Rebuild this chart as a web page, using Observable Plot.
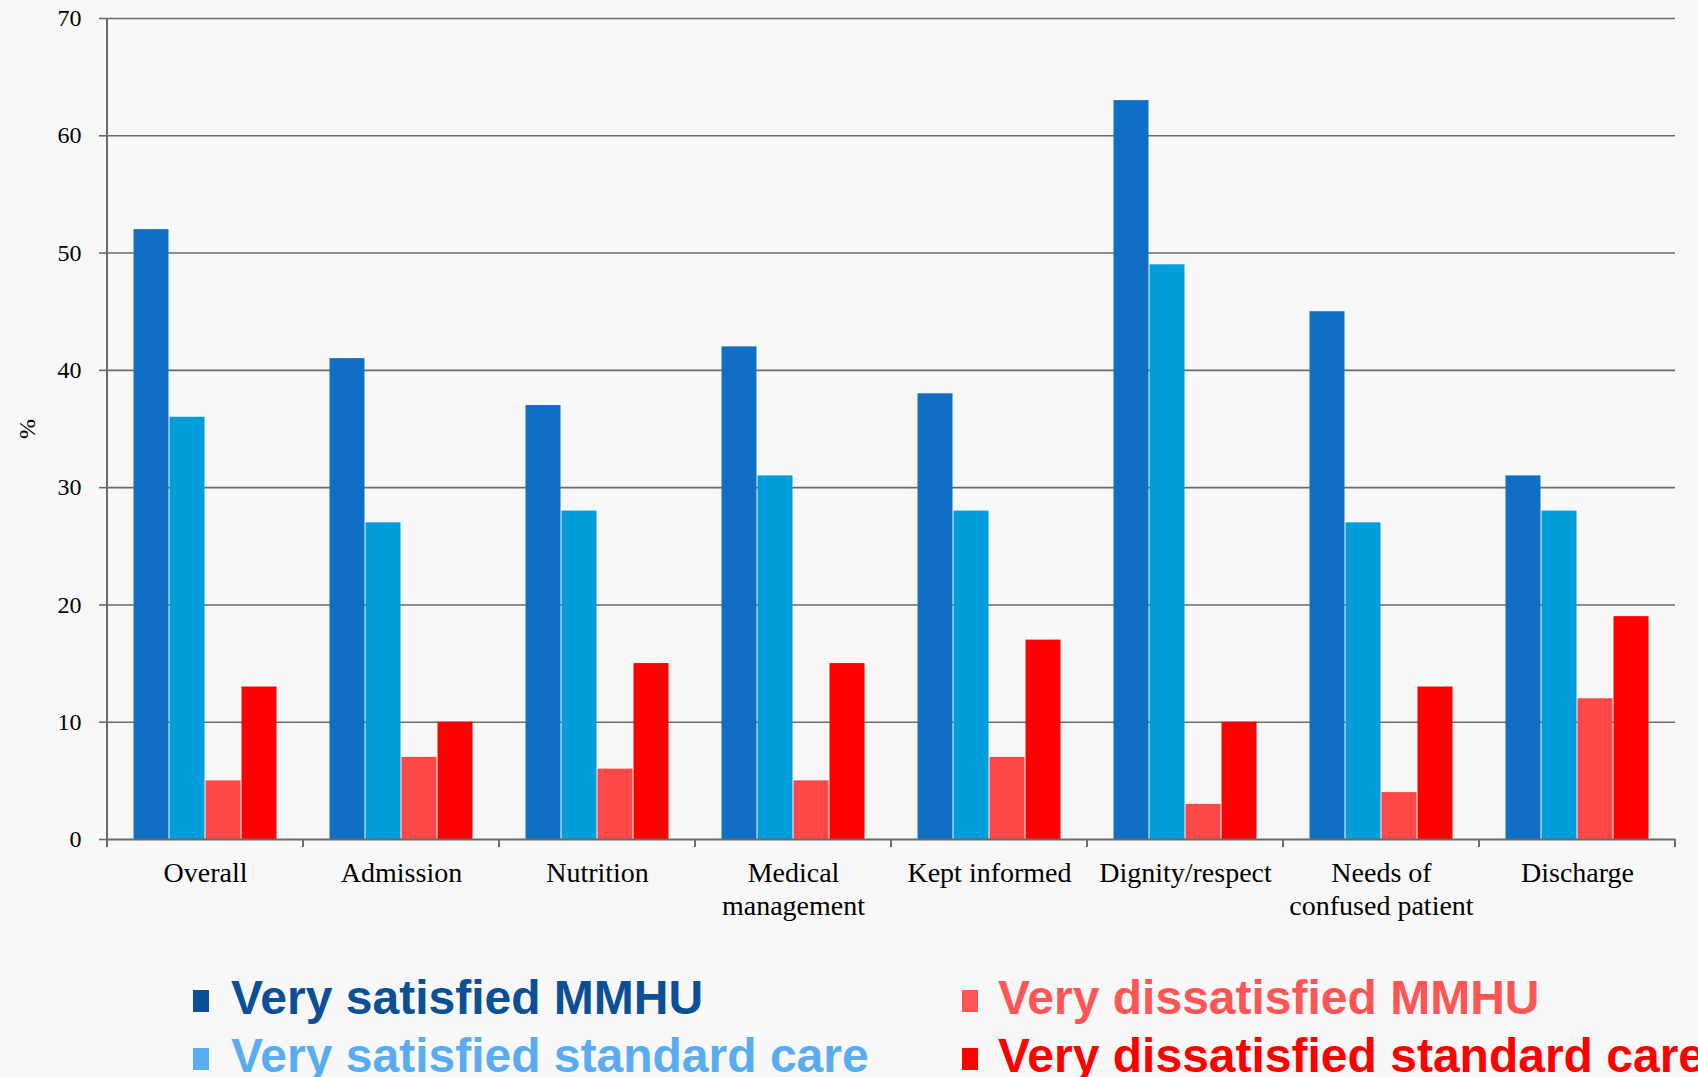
<!DOCTYPE html>
<html><head><meta charset="utf-8">
<script src="https://cdn.jsdelivr.net/npm/d3@7"></script>
<script src="https://cdn.jsdelivr.net/npm/@observablehq/plot@0.6"></script>
<style>
html,body{margin:0;padding:0;background:#f8f8f8;width:1698px;height:1077px;overflow:hidden;}
#chart{position:absolute;left:0;top:0;}
.leg{position:absolute;font-family:"Liberation Sans",Arial,sans-serif;font-weight:bold;font-size:48px;line-height:48px;white-space:nowrap;}
.sw{position:absolute;width:16px;height:22px;}
</style></head><body>
<div id="chart"></div>
<div id="legend"></div>
<script>
const categories = ["Overall","Admission","Nutrition","Medical\nmanagement","Kept informed","Dignity/respect","Needs of\nconfused patient","Discharge"];
const seriesNames = ["Very satisfied MMHU","Very satisfied standard care","Very dissatisfied MMHU","Very dissatisfied standard care"];
const verySatisfiedMMHU = [52,41,37,42,38,63,45,31];
const verySatisfiedStandard = [36,27,28,31,28,49,27,28];
const veryDissatisfiedMMHU = [5,7,6,5,7,3,4,12];
const veryDissatisfiedStandard = [13,10,15,15,17,10,13,19];
const yTicks = [0,10,20,30,40,50,60,70];
const barColors = ["#106ec5","#029edb","#ff4848","#ff0000"];
const legendColors = ["#0b4f96","#5aacf0","#ff5555","#ff0000"];

const seriesValues = [verySatisfiedMMHU, verySatisfiedStandard, veryDissatisfiedMMHU, veryDissatisfiedStandard];
const rows = [];
categories.forEach((c, i) => seriesNames.forEach((s, j) => rows.push({category: c, series: s, value: seriesValues[j][i]})));

const gridColor = "#6b6b6b";
const plot = Plot.plot({
  width: 1698, height: 930,
  marginTop: 18, marginBottom: 91, marginLeft: 103, marginRight: 20,
  style: {background: "transparent", fontFamily: "'Liberation Serif', serif", color: "#000"},
  fx: {domain: categories, padding: 0, label: null},
  x: {domain: seriesNames, paddingInner: 0, paddingOuter: 0.72, axis: null},
  y: {domain: [0, 70], label: null},
  color: {domain: seriesNames, range: barColors},
  marks: [
    Plot.ruleY(yTicks.slice(1), {stroke: gridColor, strokeWidth: 1.6}),
    Plot.barY(rows, {fx: "category", x: "series", y: "value", fill: "series", insetLeft: 0.5, insetRight: 0.5}),
    Plot.ruleY([0], {stroke: gridColor, strokeWidth: 2}),
    Plot.axisY({ticks: yTicks, tickSize: 8, tickPadding: 18, fontSize: 24, stroke: gridColor, strokeWidth: 1.6, fill: "#000",
      label: "%", labelAnchor: "center", labelArrow: "none", labelOffset: 90}),
    Plot.axisFx({anchor: "bottom", tickSize: 0, tickPadding: 20, fontSize: 28, lineHeight: 1.15, fill: "#000", label: null})
  ]
});
document.getElementById("chart").appendChild(plot);

// category boundary ticks and left axis line, placed through Plot's own scales
const fx = plot.scale("fx"), y = plot.scale("y");
const y0 = y.apply(0), yTop = y.apply(70);
const g = d3.select(plot).append("g").attr("stroke", gridColor).attr("stroke-width", 2);
const bounds = categories.map(c => fx.apply(c));
bounds.push(fx.apply(categories[categories.length - 1]) + fx.bandwidth);
g.append("line").attr("x1", bounds[0]).attr("x2", bounds[0]).attr("y1", yTop).attr("y2", y0 + 8);
bounds.slice(1).forEach(b => g.append("line").attr("x1", b).attr("x2", b).attr("y1", y0).attr("y2", y0 + 8));

// legend below the plot
const legend = document.getElementById("legend");
const legendPos = [[193, 231, 974], [193, 231, 1032], [962, 998, 974], [962, 998, 1032]];
seriesNames.forEach((s, i) => {
  const [sx, tx, ty] = legendPos[i];
  const sw = document.createElement("div");
  sw.className = "sw"; sw.style.left = sx + "px"; sw.style.top = (ty + 16) + "px"; sw.style.background = legendColors[i];
  const t = document.createElement("div");
  t.className = "leg"; t.style.left = tx + "px"; t.style.top = ty + "px"; t.style.color = legendColors[i]; t.textContent = s;
  legend.appendChild(sw); legend.appendChild(t);
});
</script>
</body></html>
